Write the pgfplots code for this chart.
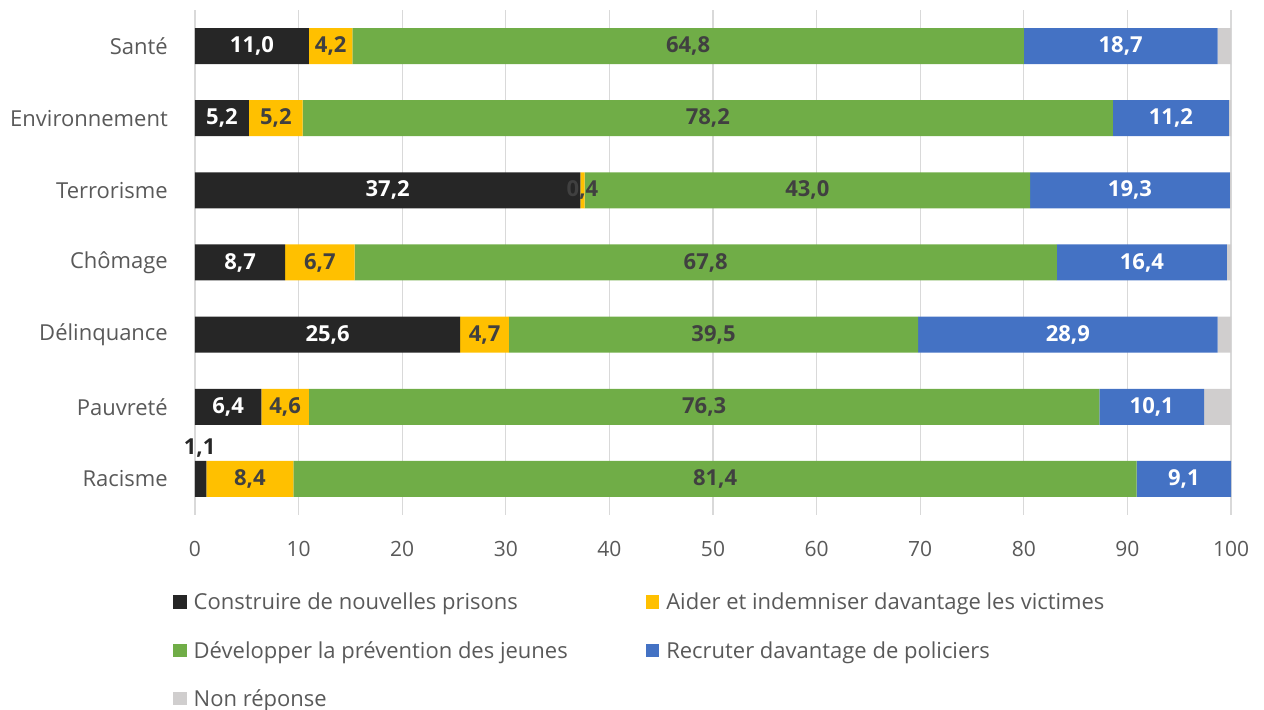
\documentclass[border=0pt]{standalone}
\usepackage{fontspec}
\setmainfont{Open Sans}
\usepackage{pgfplots}
\usepackage{pgfplotstable}
\pgfplotsset{compat=1.18}
\definecolor{cblack}{HTML}{262626}
\definecolor{cyellow}{HTML}{FFC000}
\definecolor{cgreen}{HTML}{70AD47}
\definecolor{cblue}{HTML}{4472C4}
\definecolor{cgray}{HTML}{D0CECE}
\definecolor{ctxt}{HTML}{404040}
\definecolor{clab}{HTML}{595959}
\definecolor{cgrid}{HTML}{D9D9D9}
\pgfplotstableread{
y  a    b   c    d    e
6  11.0 4.2 64.8 18.7 1.3
5  5.2  5.2 78.2 11.2 0.2
4  37.2 0.4 43.0 19.3 0.1
3  8.7  6.7 67.8 16.4 0.4
2  25.6 4.7 39.5 28.9 1.3
1  6.4  4.6 76.3 10.1 2.6
0  1.1  8.4 81.4 9.1  0.0
}\data
\pgfplotstablecreatecol[expr={\thisrow{a}/2}]{ca}\data
\pgfplotstablecreatecol[expr={\thisrow{a}+\thisrow{b}/2}]{cb}\data
\pgfplotstablecreatecol[expr={\thisrow{a}+\thisrow{b}+\thisrow{c}/2}]{cc}\data
\pgfplotstablecreatecol[expr={\thisrow{a}+\thisrow{b}+\thisrow{c}+\thisrow{d}/2}]{cd}\data
\pgfplotsset{
  common/.style={scale only axis, width=1036pt, height=505pt,
    xmin=0, xmax=100, ymin=-0.5, ymax=6.5},
  sq/.style={legend image code/.code={\fill[##1,draw=none] (0pt,-6.5pt) rectangle (13.5pt,7pt);}},
}
\begin{document}
\begin{tikzpicture}[font=\fontsize{22}{26}\selectfont]
\begin{axis}[common, name=main,
  xbar stacked, bar width=36pt,
  axis line style={draw=none},
  tick style={draw=none}, major tick length=0pt,
  xmajorgrids, grid style={cgrid, line width=1.3pt},
  xtick={0,10,...,100},
  ytick={0,...,6},
  yticklabels={Racisme,Pauvreté,Délinquance,Chômage,Terrorisme,Environnement,Santé},
  /pgf/number format/assume math mode=true,
  xticklabel style={text=clab, inner sep=0pt, anchor=north, yshift=-26pt, font=\fontsize{21}{25}\selectfont},
  yticklabel style={text=clab, inner sep=0pt, anchor=east, xshift=-27pt},
  legend columns=2,
  legend cell align=left,
  legend style={at={(0,0)}, anchor=north west, xshift=-22pt, yshift=-78pt,
    draw=none, fill=none, inner sep=0pt, text=clab,
    nodes={inner sep=0pt},
    /tikz/every even column/.append style={column sep=78pt},
    /tikz/every odd column/.append style={column sep=7pt},
    row sep=30pt},
]
\addplot[sq, fill=cblack, draw=none] table[x=a, y=y]{\data};
\addlegendentry{Construire de nouvelles prisons}
\addplot[sq, fill=cyellow, draw=none] table[x=b, y=y]{\data};
\addlegendentry{Aider et indemniser davantage les victimes}
\addplot[sq, fill=cgreen, draw=none] table[x=c, y=y]{\data};
\addlegendentry{Développer la prévention des jeunes}
\addplot[sq, fill=cblue, draw=none] table[x=d, y=y]{\data};
\addlegendentry{Recruter davantage de policiers}
\addplot[sq, fill=cgray, draw=none] table[x=e, y=y]{\data};
\addlegendentry{Non réponse}
\end{axis}
\begin{axis}[common, hide axis, clip=false,
  point meta=explicit,
  nodes near coords={\pgfmathprintnumber[fixed,fixed zerofill,precision=1,use comma,assume math mode=true]{\pgfplotspointmeta}},
  every node near coord/.append style={anchor=center, inner sep=0pt, font=\bfseries\fontsize{22}{26}\selectfont},
]
\addplot[draw=none, mark=none, skip coords between index={6}{7}, every node near coord/.append style={text=white}] table[x=ca, y=y, meta=a]{\data};
\addplot[draw=none, mark=none, every node near coord/.append style={text=ctxt}] table[x=cb, y=y, meta=b]{\data};
\addplot[draw=none, mark=none, every node near coord/.append style={text=ctxt}] table[x=cc, y=y, meta=c]{\data};
\addplot[draw=none, mark=none, every node near coord/.append style={text=white}] table[x=cd, y=y, meta=d]{\data};
\addplot[draw=none, mark=none, every node near coord/.append style={text=cblack}] coordinates {(0.45,0.43) [1.1]};
\end{axis}
\pgfresetboundingbox
\path[use as bounding box] ([xshift=-195pt,yshift=-195pt]main.south west) rectangle ([xshift=33pt,yshift=10pt]main.north east);
\end{tikzpicture}
\end{document}
